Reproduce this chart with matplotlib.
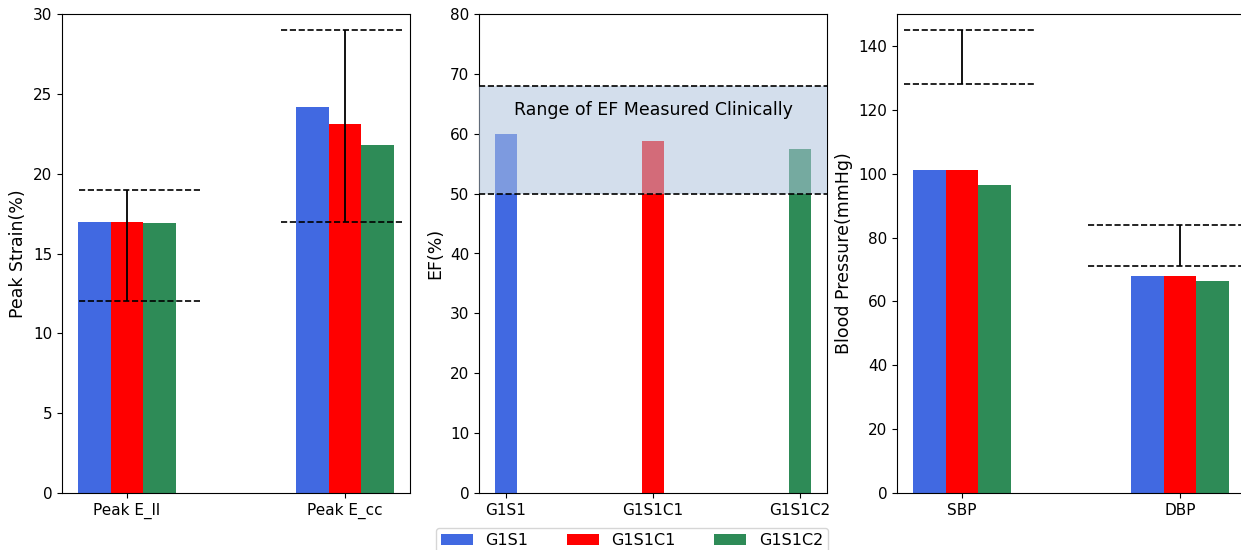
import numpy as np
import matplotlib
matplotlib.use("Agg")
import matplotlib.pyplot as plt

groups = ["G1S1", "G1S1C1", "G1S1C2"]
colors = ["royalblue", "red", "seagreen"]

strain_labels = ["Peak E_ll", "Peak E_cc"]
strain_vals = [[16.95, 24.2], [16.95, 23.1], [16.9, 21.8]]
strain_ranges = [(12, 19), (17, 29)]

ef_vals = [60.0, 58.8, 57.4]
ef_range = (50, 68)

bp_labels = ["SBP", "DBP"]
bp_vals = [[101, 68], [101, 68], [96.3, 66.3]]
bp_ranges = [(128, 145), (71, 84)]

W, H = 1241, 550
fig = plt.figure(figsize=(W / 100, H / 100), dpi=100)

def box(left):
    return [left / W, 57 / H, 348 / W, 479 / H]

ax1 = fig.add_axes(box(62))
ax2 = fig.add_axes(box(479))
ax3 = fig.add_axes(box(897))

width = 0.15
offs = [-width, 0, width]

# strain
x = np.arange(len(strain_labels))
for i in range(3):
    ax1.bar(x + offs[i], strain_vals[i], width, color=colors[i], label=groups[i])
spans1 = [(0.05, 0.40), (0.63, 0.98)]
for j, (lo, hi) in enumerate(strain_ranges):
    a, b = spans1[j]
    ax1.axhline(lo, a, b, color="k", ls="--", lw=1.2)
    ax1.axhline(hi, a, b, color="k", ls="--", lw=1.2)
    ax1.vlines(x[j], lo, hi, color="k", lw=1.3)
ax1.set_ylim(0, 30)
ax1.set_xticks(x)
ax1.set_xticklabels(strain_labels)
ax1.set_ylabel("Peak Strain(%)", fontsize=12.5)

# EF
x2 = np.arange(len(groups))
for i in range(3):
    ax2.bar(x2[i], ef_vals[i], width, color=colors[i])
ax2.axhspan(ef_range[0], ef_range[1], color="lightsteelblue", alpha=0.55, lw=0, zorder=3)
ax2.axhline(ef_range[0], color="k", ls="--", lw=1.2, zorder=4)
ax2.axhline(ef_range[1], color="k", ls="--", lw=1.2, zorder=4)
ax2.text(1, 64, "Range of EF Measured Clinically", ha="center", va="center",
         fontsize=12.5, zorder=5)
ax2.set_ylim(0, 80)
ax2.set_xticks(x2)
ax2.set_xticklabels(groups)
ax2.set_ylabel("EF(%)", fontsize=12.5)

# blood pressure
x3 = np.arange(len(bp_labels))
for i in range(3):
    ax3.bar(x3 + offs[i], bp_vals[i], width, color=colors[i])
spans3 = [(0.02, 0.40), (0.55, 1.0)]
for j, (lo, hi) in enumerate(bp_ranges):
    a, b = spans3[j]
    ax3.axhline(lo, a, b, color="k", ls="--", lw=1.2)
    ax3.axhline(hi, a, b, color="k", ls="--", lw=1.2)
    ax3.vlines(x3[j], lo, hi, color="k", lw=1.3)
ax3.set_ylim(0, 150)
ax3.set_xticks(x3)
ax3.set_xticklabels(bp_labels)
ax3.set_ylabel("Blood Pressure(mmHg)", fontsize=12.5)

for ax in (ax1, ax2, ax3):
    ax.tick_params(labelsize=11)

handles, labels = ax1.get_legend_handles_labels()
fig.legend(handles, labels, loc="upper center", ncol=3, fontsize=11.5,
           bbox_to_anchor=(632 / W, 22 / H), borderpad=0.3, borderaxespad=0,
           columnspacing=2.4, frameon=True)

fig.savefig("out.png", dpi=100)
